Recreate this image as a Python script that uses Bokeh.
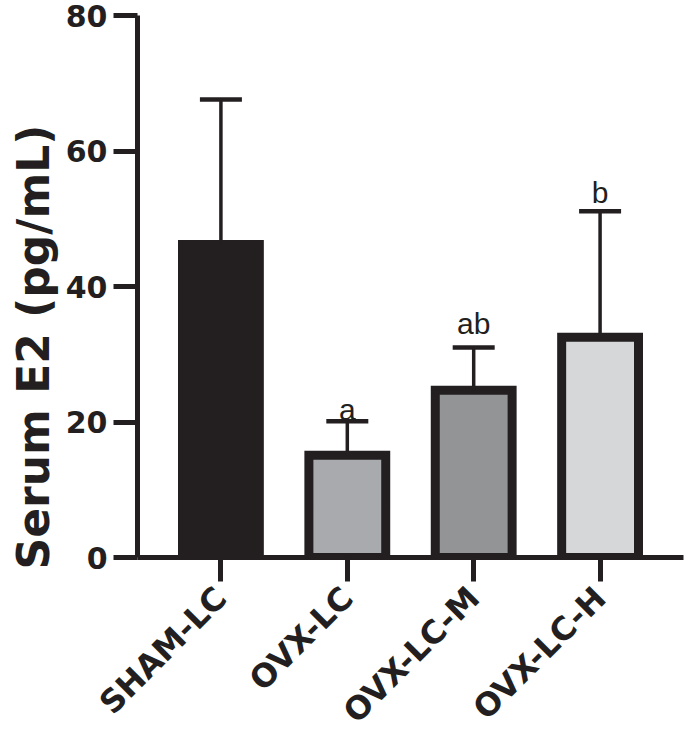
import math
from bokeh.plotting import figure
from bokeh.models import (ColumnDataSource, FactorRange, Range1d, FixedTicker,
                          Whisker, TeeHead, Title)
from bokeh.core.properties import value
from bokeh.embed import file_html
from bokeh.resources import INLINE

# ---- data ----
groups = ["SHAM-LC", "OVX-LC", "OVX-LC-M", "OVX-LC-H"]
means = [46.2, 15.1, 24.7, 32.5]
sds = [21.4, 5.0, 6.3, 18.6]
fills = ["#231f20", "#a9aaad", "#939496", "#d6d7d9"]
sig_text = ["", "a", "ab", "b"]
sig_y = [0.0, 21.8, 34.5, 53.9]
y_ticks = [0, 20, 40, 60, 80]
y_title = "Serum E2 (pg/mL)"

INK = "#231f20"
BOLD = "DejaVu Sans"

upper = [m + s for m, s in zip(means, sds)]
src = ColumnDataSource(dict(g=groups, mean=means, upper=upper, fill=fills,
                            sig=sig_text, sig_y=sig_y))

p = figure(width=685, height=746, output_backend="svg", toolbar_location=None,
           x_range=FactorRange(*groups, range_padding=0.08),
           y_range=Range1d(0, 80),
           min_border_left=137, min_border_right=2, min_border_top=15,
           min_border_bottom=189)
p.outline_line_color = None
p.background_fill_color = "white"
p.border_fill_color = "white"
p.xgrid.visible = False
p.ygrid.visible = False

p.vbar(x="g", top="mean", width=0.608, source=src, fill_color="fill",
       line_color=INK, line_width=9, line_join="miter")

wh = Whisker(source=src, base="g", upper="upper", lower="mean",
             dimension="height", line_color=INK, line_width=3.5,
             upper_head=TeeHead(size=42, line_color=INK, line_width=4.5),
             lower_head=None, level="overlay")
p.add_layout(wh)

p.text(x="g", y="sig_y", text="sig", source=src, text_align="center",
       text_baseline="alphabetic", text_font=value("Liberation Sans"),
       text_font_size="30px", text_color=INK)

for ax in (p.xaxis[0], p.yaxis[0]):
    ax.axis_line_color = INK
    ax.axis_line_width = 5
    ax.major_tick_line_color = INK
    ax.major_tick_line_width = 5
    ax.major_tick_out = 24
    ax.major_tick_in = 0
    ax.minor_tick_line_color = None
    ax.major_label_text_font = BOLD
    ax.major_label_text_font_style = "bold"
    ax.major_label_text_color = INK

p.yaxis.ticker = FixedTicker(ticks=y_ticks)
p.yaxis.major_label_text_font_size = "30px"
p.yaxis.major_label_standoff = 6

p.xaxis.major_label_orientation = math.pi / 4
p.xaxis.major_label_text_font_size = "32px"
p.xaxis.major_label_standoff = 11

ytitle = Title(text=y_title, align="left", offset=-12, standoff=8,
               text_font=BOLD, text_font_style="bold", text_font_size="44px",
               text_color=INK)
p.add_layout(ytitle, "left")

open("out.html", "w").write(file_html(p, INLINE))
